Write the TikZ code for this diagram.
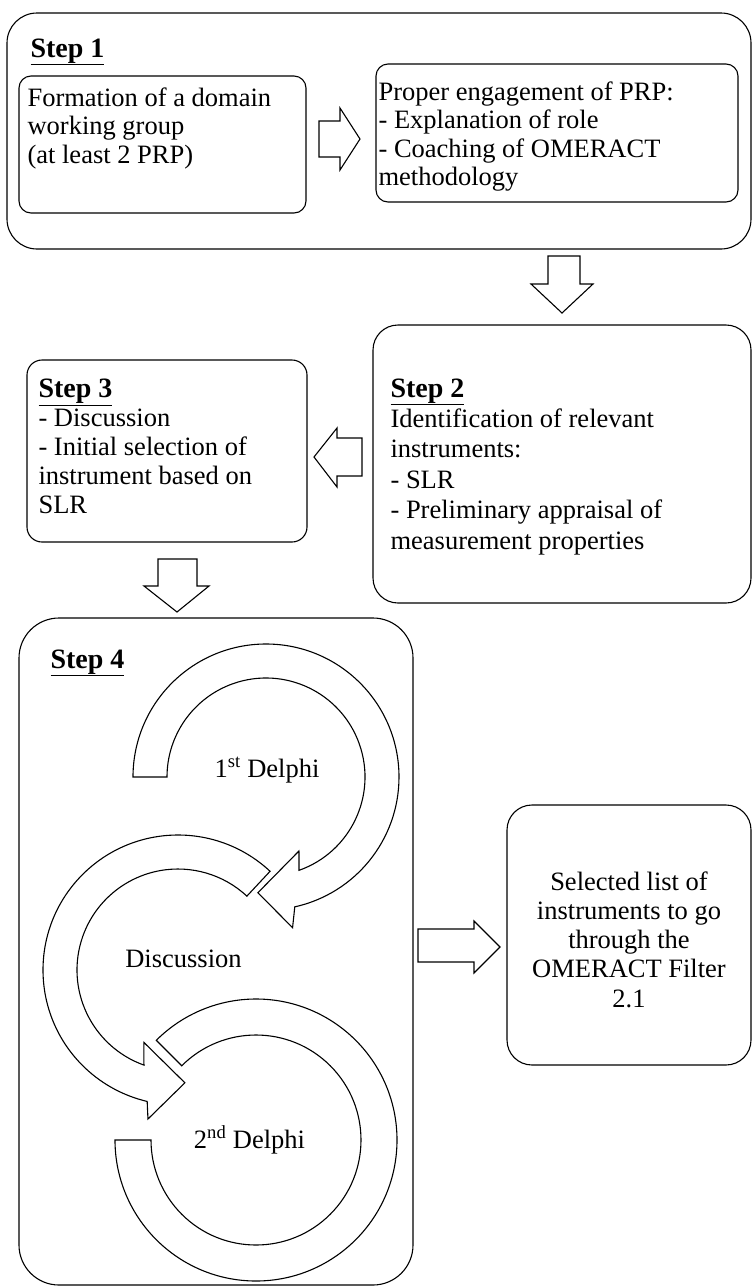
\documentclass[tikz,border=0pt]{standalone}
\usepackage{fontspec}
\setmainfont{Liberation Serif}
\usetikzlibrary{calc}

\newcommand{\steptitle}[1]{{\fontsize{28}{28.5}\selectfont\underline{\textbf{#1}}}}

\begin{document}
\begin{tikzpicture}[x=1pt,y=-1pt,line width=1.1pt,
	box/.style={draw,rounded corners=#1},
	box/.default=12pt,
	blockarrow/.style={draw,fill=white,line join=miter},
	ring/.style={draw,fill=white,line join=miter},
	txt/.style={anchor=base west,inner sep=0,align=left,font=\fontsize{26.5}{28.5}\selectfont},
	ctxt/.style={anchor=base,inner sep=0,align=center,font=\fontsize{26.5}{29.2}\selectfont}]
	\useasboundingbox (0,0) rectangle (752,1286);

	% Step 1 (text nodes sit on the baseline of their last line)
	\draw[box=30pt] (7,13) rectangle (751,249);
	\node[txt] (step1) at (30,57) {\steptitle{Step 1}};
	\draw[box] (19,76) rectangle (306,213);
	\node[txt] (formation) at (27,163) {Formation of a domain\\working group\\(at least 2 PRP)};
	\draw[box] (376,64) rectangle (738,202);
	\node[txt] (engagement) at (378,185.5) {Proper engagement of PRP:\\- Explanation of role\\- Coaching of OMERACT\\methodology};
	\draw[blockarrow] (319,121) -- (340,121) -- (340,108) -- (360,139) -- (340,170) -- (340,157) -- (319,157) -- cycle;
	\draw[blockarrow] (548,256) -- (580,256) -- (580,284) -- (593,284) -- (562,313) -- (531,284) -- (548,284) -- cycle;

	% Step 2 and 3
	\draw[box=25pt] (373,325) rectangle (751,603);
	\node[txt,font=\fontsize{26.5}{30.4}\selectfont] (step2) at (390,549) {\steptitle{Step 2}\\Identification of relevant\\instruments:\\- SLR\\- Preliminary appraisal of\\measurement properties};
	\draw[blockarrow] (362,438) -- (337,438) -- (337,428) -- (314,457) -- (337,487) -- (337,476) -- (362,476) -- cycle;
	\draw[box=15pt] (27,360) rectangle (307,542);
	\node[txt,font=\fontsize{26.5}{28.8}\selectfont] (step3) at (38,513) {\steptitle{Step 3}\\- Discussion\\- Initial selection of\\instrument based on\\SLR};
	\draw[blockarrow] (158,559) -- (197,559) -- (197,586) -- (209,586) -- (177,612) -- (144,586) -- (158,586) -- cycle;

	% Step 4
	\draw[box=40pt] (19,618) rectangle (413,1285);
	\node[txt] (step4) at (50,668) {\steptitle{Step 4}};
	\coordinate (c1) at (266,777);
	\coordinate (c2) at (178,970);
	\coordinate (c3) at (256,1140);
	\draw[ring] ($(c3)+(180:141)$) arc[start angle=180,end angle=-135,radius=141] -- ($(c3)+(-135:105)$) arc[start angle=-135,end angle=180,radius=105] -- cycle;
	\draw[ring] ($(c2)+(-47:135)$) arc[start angle=-47,end angle=-256.8,radius=135] -- ($(c2)+(-258.6:152)$) -- ($(c2)+(-273.5:113)$) -- ($(c2)+(-244.7:80)$) -- ($(c2)+(-250.3:101)$) arc[start angle=-250.3,end angle=-47,radius=101] -- cycle;
	\draw[ring] ($(c1)+(180:133)$) arc[start angle=180,end angle=437.5,radius=133] -- ($(c1)+(440:153)$) -- ($(c1)+(454:116)$) -- ($(c1)+(426:81)$) -- ($(c1)+(430.5:99)$) arc[start angle=430.5,end angle=180,radius=99] -- cycle;
	\node[ctxt] (delphi1) at (267,777) {1\textsuperscript{st} Delphi};
	\node[ctxt] (discussion) at (183.5,967) {Discussion};
	\node[ctxt] (delphi2) at (249.5,1148) {2\textsuperscript{nd} Delphi};

	% result
	\draw[blockarrow] (418,929) -- (474,929) -- (474,921) -- (500,947) -- (474,973) -- (474,962) -- (418,962) -- cycle;
	\draw[box=25pt] (507,805) rectangle (751,1065);
	\node[ctxt] (selected) at (629,1007) {Selected list of\\instruments to go\\through the\\OMERACT Filter\\2.1};
\end{tikzpicture}
\end{document}
